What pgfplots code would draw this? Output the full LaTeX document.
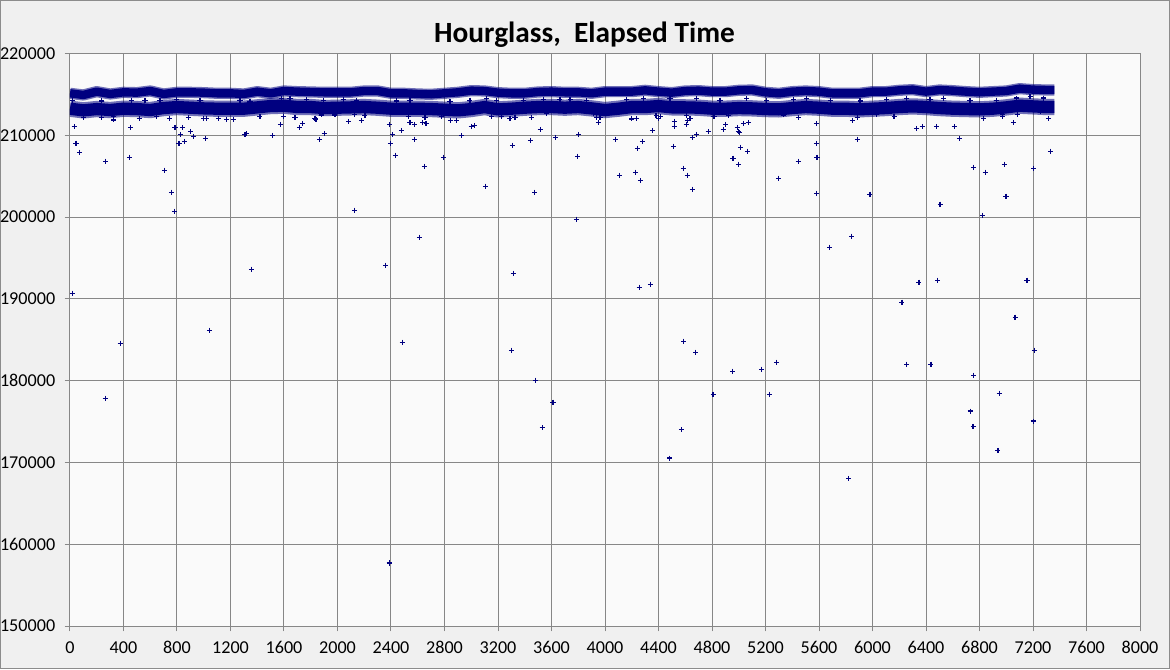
\documentclass[border=0pt]{standalone}
\usepackage{pgfplots}
\pgfplotsset{compat=1.18}
\usepackage{fontspec}
\setmainfont{Carlito}
\definecolor{navy}{HTML}{000080}
\definecolor{gridgray}{HTML}{878787}
\definecolor{plotbg}{HTML}{FAFAFA}
\definecolor{chartbg}{HTML}{F0F0F0}
\definecolor{bordergray}{HTML}{8C8C8C}
\pgfplotsset{pts/.style={only marks, mark=+, mark size=1.9pt, navy, mark options={line width=0.9pt}}}
\pgfplotstableread{
x u
0 215133
100 214929
200 215337
300 215051
400 215255
500 215214
600 215418
700 215051
800 215255
900 215255
1000 215214
1100 215133
1200 215133
1300 215051
1400 215337
1500 215133
1600 215418
1700 215337
1800 215296
1900 215255
2000 215255
2100 215255
2200 215418
2300 215418
2400 215133
2500 215133
2600 215051
2700 215011
2800 215133
2900 215255
3000 215459
3100 215418
3200 215214
3300 215133
3400 215133
3500 215296
3600 215337
3700 215255
3800 215255
3900 215133
4000 215337
4100 215337
4200 215337
4300 215499
4400 215337
4500 215214
4600 215418
4700 215459
4800 215337
4900 215337
5000 215499
5100 215540
5200 215255
5300 215133
5400 215337
5500 215418
5600 215337
5700 215133
5800 215133
5900 215133
6000 215337
6100 215337
6200 215499
6300 215581
6400 215337
6500 215540
6600 215459
6700 215337
6800 215255
6900 215337
7000 215418
7100 215703
7200 215581
7300 215540
7360 215540
}\upperband
\pgfplotstableread{
x l
0 213250
100 213047
200 213209
300 213087
400 213250
500 213209
600 213087
700 213331
800 213454
900 213372
1000 213291
1100 213250
1200 213250
1300 213250
1400 213413
1500 213576
1600 213617
1700 213454
1800 213454
1900 213331
2000 213372
2100 213413
2200 213454
2300 213372
2400 213250
2500 213250
2600 213250
2700 213209
2800 213128
2900 213047
3000 213209
3100 213454
3200 213169
3300 213250
3400 213372
3500 213454
3600 213454
3700 213372
3800 213454
3900 213291
4000 213087
4100 213250
4200 213454
4300 213454
4400 213576
4500 213413
4600 213413
4700 213372
4800 213250
4900 213250
5000 213331
5100 213291
5200 213209
5300 213169
5400 213331
5500 213454
5600 213372
5700 213250
5800 213250
5900 213169
6000 213250
6100 213331
6200 213454
6300 213535
6400 213454
6500 213331
6600 213250
6700 213209
6800 213169
6900 213250
7000 213413
7100 213617
7200 213535
7300 213454
7360 213454
}\lowerband
\begin{document}
\begin{tikzpicture}
\fill[chartbg] (0,0) rectangle (877.5pt,501.75pt);
\draw[bordergray, line width=0.9pt] (0.45pt,0.45pt) rectangle (877.05pt,501.3pt);
\node[anchor=base, font=\bfseries\fontsize{22}{26}\selectfont] at (438.4pt,470pt) {Hourglass,\ \ Elapsed Time};
\begin{axis}[
  at={(52.5pt,32.25pt)}, anchor=south west,
  width=802.5pt, height=429.375pt, scale only axis,
  xmin=0, xmax=8000, ymin=150000, ymax=220000,
  xtick distance=400, ytick distance=10000,
  scaled ticks=false,
  grid=major,
  major grid style={gridgray, line width=0.75pt},
  axis line style={gridgray, line width=0.75pt},
  tick style={gridgray, line width=0.75pt},
  tick align=outside, major tick length=4pt,
  xtick pos=lower, ytick pos=left,
  axis background/.style={fill=plotbg},
  tick label style={font=\fontsize{13.6}{15}\selectfont, black},
  /pgf/number format/assume math mode=true,
  /pgf/number format/1000 sep={},
  /pgf/number format/fixed,
  yticklabel style={anchor=east, inner sep=0pt, xshift=-6.9pt},
  xticklabel style={anchor=north, inner sep=0pt, yshift=-7.5pt},
  clip=true,
]
% fuzzy fringes of the two dense bands
\addplot[navy, opacity=0.55, line width=8.4pt, line join=round, mark=none] table[x=x,y=u] {\upperband};
\addplot[navy, opacity=0.55, line width=12.2pt, line join=round, mark=none] table[x=x,y=l] {\lowerband};
% dense cores
\addplot[navy, line width=6.3pt, line join=round, mark=none] table[x=x,y=u] {\upperband};
\addplot[navy, line width=9.2pt, line join=round, mark=none] table[x=x,y=l] {\lowerband};
% points between the bands
\addplot[pts] coordinates {
(20,214300) (237,214200) (461,214250) (561,214300) (673,214250) (797,214400)
(972,214300) (1271,214250) (1346,214150) (1582,214450) (1645,214500) (1770,214400)
(1894,214300) (2043,214350) (2143,214300) (2442,214200) (2542,214250) (2841,214150)
(2990,214300) (3115,214450) (3190,214300) (3389,214300) (3538,214400) (3663,214350)
(3739,214350) (3863,214250) (4162,214400) (4287,214450) (4486,214500) (4686,214450)
(4860,214300) (5060,214450) (5209,214250) (5408,214350) (5508,214450) (5683,214250)
(5907,214200) (6106,214350) (6256,214500) (6430,214400) (6530,214450) (6729,214300)
(6928,214300) (7078,214550) (7178,214700) (7277,214550)
};
% points below the bands
\addplot[pts] coordinates {
(100,212160) (237,212160) (324,212282) (518,212078) (648,212282)
(32,211100) (45,209023) (70,207923) (267,206824) (324,211874) (444,207312)
(451,210978) (705,205724) (743,212078) (785,210978) (815,209023) (825,210082)
(840,210978) (855,209267) (885,212160) (900,210489) (922,209878) (997,212078)
(1012,209634) (1022,212078) (1109,212078) (1171,211956) (1221,211956) (1308,210123)
(1321,210245) (1420,212282) (1513,210000) (1573,211345) (1595,212282) (1682,212160)
(1715,210978) (1737,211467) (1832,212078) (1839,211956) (1864,209512) (1881,212485)
(1901,210245) (1981,212485) (2083,211711) (2130,212567) (2178,211833) (2205,212404)
(2388,211345) (2395,209023) (2400,212811) (2410,210123) (2432,207557) (2477,210611)
(2529,212282) (2542,211589) (2575,211345) (2575,209512) (2637,211589) (2650,206212)
(2654,212160) (2662,211467) (2778,212282) (2791,207312) (2844,211833) (2888,211833)
(2926,210000) (3000,211100) (3023,211222) (3152,212282) (3227,212282) (3289,212078)
(3307,208779) (3327,212200) (3442,209389) (3451,212160) (3516,210734) (3563,212689)
(3628,209756) (3793,207434) (3803,210123) (3913,212689) (3938,212160) (3950,211589)
(3963,212160) (4077,209512) (4107,205113) (4200,212000) (4227,205479) (4237,212078)
(4242,208412) (4279,209267) (4354,210611) (4382,212404) (4399,212078) (4412,212282)
(4511,208656) (4518,211711) (4518,211100) (4585,205968) (4608,211345) (4611,212404)
(4615,211833) (4615,205113) (4636,212078) (4653,209756) (4683,210123) (4772,210489)
(4815,212282) (4884,210734) (4902,211345) (4922,212404) (4957,207190) (4989,210978)
(4997,210489) (4997,206457) (5004,210367) (5012,208534) (5034,211467) (5064,208045)
(5071,211589) (5296,204746) (5334,212485) (5445,206824) (5446,212160) (5580,211467)
(5580,209023) (5585,207312) (5849,211833) (5886,209512) (5889,212160) (6031,212567)
(6161,212282) (6328,210856) (6372,211100) (6477,211100) (6612,211100) (6649,209634)
(6754,206090) (6829,212078) (6843,205479) (6973,212282) (6973,212567) (6985,206457)
(7053,211589) (7083,212567) (7205,205968) (7257,212893) (7315,212078) (7330,208045)
};
% outliers
\addplot[pts] coordinates {
(17,190696) (263,177866) (375,184586) (758,203038) (781,200717) (1042,186175)
(1357,193629) (2126,200839) (2358,194118) (2387,157704) (2484,184708) (2612,197540)
(3105,203772) (3300,183731) (3314,193140) (3474,203038) (3480,180065) (3531,174236)
(3611,177377) (3786,199740) (4256,191430) (4264,204456) (4340,191796) (4484,170533)
(4571,174000) (4588,184831) (4653,203405) (4678,183487) (4808,178354) (4955,181165)
(5172,181410) (5231,178354) (5285,182265) (5583,202916) (5679,196318) (5845,197662)
(5823,168040) (5981,202794) (6220,189597) (6257,182021) (6347,192041) (6437,182021)
(6488,192285) (6505,201572) (6730,176277) (6752,174400) (6758,180676) (6825,200228)
(6938,171462) (6947,178477) (6998,202550) (7066,187764) (7155,192285) (7201,175055)
(7209,183731)
};
\end{axis}
\pgfresetboundingbox
\path[use as bounding box] (0,0) rectangle (877.5pt,501.75pt);
\end{tikzpicture}
\end{document}
